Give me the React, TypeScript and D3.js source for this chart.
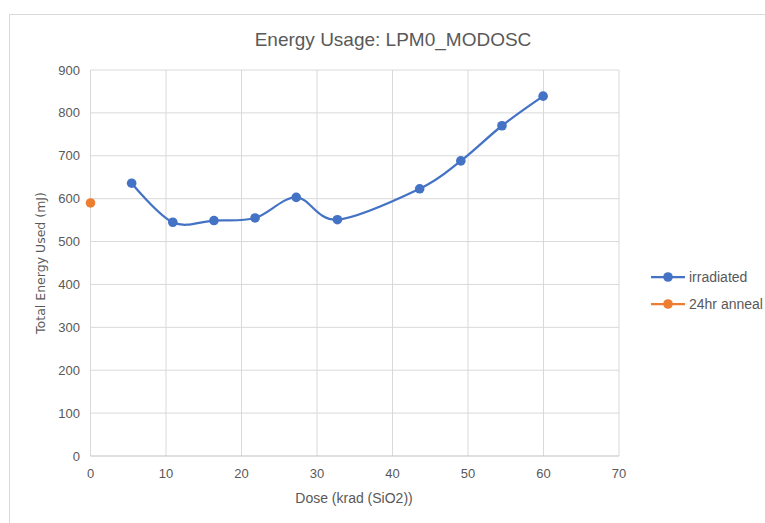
import React from "react";
import * as d3 from "d3";

// Dose (krad SiO2) and total energy (mJ) per measurement
const doseIrradiated = [5.45, 10.9, 16.35, 21.8, 27.25, 32.7, 43.6, 49.05, 54.5, 59.95];
const energyIrradiated = [636, 545, 549, 555, 603, 551, 623, 688, 770, 839];
const doseAnneal = [0];
const energyAnneal = [590];
const xTicks = [0, 10, 20, 30, 40, 50, 60, 70];
const yTicks = [0, 100, 200, 300, 400, 500, 600, 700, 800, 900];
const seriesNames = ["irradiated", "24hr anneal"];
const seriesColors = ["#4472C4", "#ED7D31"];

const W = 765;
const H = 523;
const plot = { left: 90.5, right: 619, top: 70, bottom: 456 };
const FONT = "'Liberation Sans Narrow', 'Liberation Sans', Arial, sans-serif";

export default function App() {
  const x = d3.scaleLinear().domain([0, 70]).range([plot.left, plot.right]);
  const y = d3.scaleLinear().domain([0, 900]).range([plot.bottom, plot.top]);

  const irr = doseIrradiated.map((d, i) => [d, energyIrradiated[i]] as [number, number]);
  const ann = doseAnneal.map((d, i) => [d, energyAnneal[i]] as [number, number]);

  const line = d3
    .line<[number, number]>()
    .x((d) => x(d[0]))
    .y((d) => y(d[1]))
    .curve(d3.curveCardinal.tension(0));

  return (
    <svg
      width={W}
      height={H}
      style={{ position: "absolute", left: 0, top: 0, background: "#fff" }}
    >
      <rect x={9.5} y={14.5} width={W} height={H} fill="#fff" stroke="#d9d9d9" />
      <text
        x={393}
        y={46}
        textAnchor="middle"
        fontFamily={FONT}
        fontSize={19}
        fill="#595959"
      >
        Energy Usage: LPM0_MODOSC
      </text>

      {/* gridlines */}
      {yTicks.slice(1).map((t) => (
        <line key={"gy" + t} x1={plot.left} x2={plot.right} y1={y(t)} y2={y(t)} stroke="#d9d9d9" strokeWidth={1} />
      ))}
      {xTicks.slice(1).map((t) => (
        <line key={"gx" + t} x1={x(t)} x2={x(t)} y1={plot.top} y2={plot.bottom} stroke="#d9d9d9" strokeWidth={1} />
      ))}
      <line x1={plot.left} x2={plot.left} y1={plot.top} y2={plot.bottom} stroke="#d9d9d9" />
      <line x1={plot.left} x2={plot.right} y1={plot.bottom} y2={plot.bottom} stroke="#bfbfbf" />

      {/* tick labels */}
      {yTicks.map((t) => (
        <text key={"ty" + t} x={80} y={y(t) + 4.5} textAnchor="end" fontFamily={FONT} fontSize={13} fill="#595959">
          {t}
        </text>
      ))}
      {xTicks.map((t) => (
        <text key={"tx" + t} x={x(t)} y={478} textAnchor="middle" fontFamily={FONT} fontSize={13} fill="#595959">
          {t}
        </text>
      ))}

      <text x={354} y={503} textAnchor="middle" fontFamily={FONT} fontSize={14} fill="#595959">
        Dose (krad (SiO2))
      </text>
      <text
        transform={`translate(45, ${263}) rotate(-90)`}
        textAnchor="middle"
        fontFamily="'DejaVu Sans', Verdana, sans-serif"
        fontSize={12.5}
        fill="#595959"
      >
        Total Energy Used (mJ)
      </text>

      {/* series */}
      <path d={line(irr) || ""} fill="none" stroke={seriesColors[0]} strokeWidth={2.25} />
      {irr.map((d, i) => (
        <circle key={"pi" + i} cx={x(d[0])} cy={y(d[1])} r={4.8} fill={seriesColors[0]} />
      ))}
      {ann.map((d, i) => (
        <circle key={"pa" + i} cx={x(d[0])} cy={y(d[1])} r={4.8} fill={seriesColors[1]} />
      ))}

      {/* legend */}
      {seriesNames.map((name, i) => {
        const ly = 277 + i * 27;
        return (
          <g key={name}>
            <line x1={651} x2={685} y1={ly} y2={ly} stroke={seriesColors[i]} strokeWidth={2.25} />
            <circle cx={668} cy={ly} r={4.8} fill={seriesColors[i]} />
            <text x={689} y={ly + 5} fontFamily={FONT} fontSize={14} fill="#595959">
              {name}
            </text>
          </g>
        );
      })}
    </svg>
  );
}
